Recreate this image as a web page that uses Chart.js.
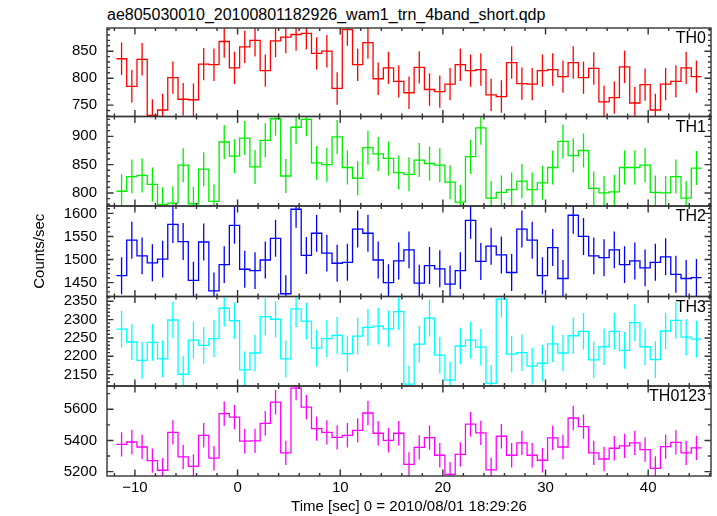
<!DOCTYPE html>
<html>
<head>
<meta charset="utf-8">
<script src="https://cdn.jsdelivr.net/npm/chart.js@4.4.1/dist/chart.umd.min.js"></script>
<style>
    html, body { margin: 0; padding: 0; background: #fff; }
    #cadre { position: relative; width: 717px; height: 516px; overflow: hidden; font-family: 'Liberation Sans', Arial, Helvetica, sans-serif; }
    #cadre canvas { position: absolute; left: 0; }
    #titre { position: absolute; left: 107px; top: 7px; font-size: 16px; line-height: 16px; color: #000; white-space: nowrap; }
</style>
</head>
<body>
<div id="cadre">
    <div id="titre">ae805030010_20100801182926_wam1_trn_4band_short.qdp</div>
    <canvas id="p0"></canvas>
    <canvas id="p1"></canvas>
    <canvas id="p2"></canvas>
    <canvas id="p3"></canvas>
    <canvas id="p4"></canvas>
</div>
<script>
// 1 s bins, first bin starts at binStart (sec from 2010/08/01 18:29:26)
const binStart = -11.8;
const binWidth = 1.0;

const th0 = [836, 785, 835, 731, 741, 801, 761, 760, 826, 825, 868, 819, 858, 870, 814, 869, 876, 881, 883, 846,
             850, 781, 890, 825, 866, 799, 819, 794, 773, 820, 779, 775, 789, 825, 814, 816, 769, 766, 829, 790,
             789, 814, 816, 803, 829, 801, 818, 756, 764, 821, 754, 788, 741, 789, 794, 819, 803];
const th1 = [803, 829, 831, 815, 780, 782, 849, 781, 842, 785, 890, 865, 897, 846, 893, 931, 830, 916, 930, 853,
             850, 899, 845, 826, 880, 869, 861, 836, 833, 858, 852, 849, 819, 784, 864, 915, 791, 801, 806, 821,
             806, 818, 845, 891, 866, 875, 808, 800, 802, 845, 845, 849, 801, 800, 829, 791, 844];
const th2 = [1465, 1542, 1508, 1493, 1501, 1576, 1539, 1455, 1538, 1432, 1489, 1574, 1479, 1476, 1499, 1546, 1426, 1609, 1509, 1557,
             1514, 1492, 1494, 1566, 1557, 1499, 1450, 1497, 1521, 1449, 1487, 1480, 1447, 1476, 1585, 1496, 1529, 1510, 1472, 1566,
             1542, 1465, 1526, 1459, 1596, 1550, 1508, 1504, 1521, 1489, 1497, 1482, 1494, 1506, 1468, 1459, 1461];
const th3 = [2274, 2239, 2189, 2238, 2193, 2299, 2151, 2244, 2230, 2248, 2331, 2297, 2163, 2209, 2308, 2301, 2193, 2329, 2296, 2222,
             2248, 2257, 2207, 2255, 2279, 2282, 2275, 2322, 2124, 2233, 2304, 2203, 2135, 2228, 2244, 2225, 2126, 2356, 2206, 2210,
             2173, 2181, 2234, 2209, 2256, 2268, 2190, 2226, 2268, 2216, 2292, 2226, 2191, 2269, 2298, 2252, 2247];
const th0123 = [5375, 5390, 5358, 5271, 5209, 5452, 5294, 5234, 5433, 5286, 5572, 5549, 5395, 5397, 5510, 5645, 5320, 5735, 5613, 5476,
                5452, 5420, 5433, 5465, 5576, 5446, 5401, 5446, 5247, 5356, 5418, 5305, 5183, 5311, 5504, 5448, 5211, 5427, 5305, 5384,
                5305, 5273, 5416, 5358, 5544, 5489, 5320, 5281, 5350, 5365, 5384, 5341, 5221, 5360, 5388, 5320, 5352];

// erreurs (1 sigma) par bande
const errTH0 = 30;
const errTH1 = 30;
const errTH2 = 40;
const errTH3 = 50;
const errTH0123 = 78;

// graduations
const xTicks = [-10, 0, 10, 20, 30, 40];
const yTicksTH0 = [750, 800, 850];
const yTicksTH1 = [800, 850, 900];
const yTicksTH2 = [1450, 1500, 1550, 1600];
const yTicksTH3 = [2150, 2200, 2250, 2300, 2350];
const yTicksTH0123 = [5200, 5400, 5600];

const xMin = -12.72, xMax = 46.12;
const limites = [28, 116.5, 206, 296.5, 386, 476];   // bords des panneaux en px

const panneaux = [
    { id: 'p0', nom: 'TH0', valeurs: th0, err: errTH0, couleur: '#ff0000', min: 729, max: 893, ticks: yTicksTH0, pas: 50, mineur: 10 },
    { id: 'p1', nom: 'TH1', valeurs: th1, err: errTH1, couleur: '#00ee00', min: 777, max: 935, ticks: yTicksTH1, pas: 50, mineur: 10 },
    { id: 'p2', nom: 'TH2', valeurs: th2, err: errTH2, couleur: '#0000ff', min: 1420, max: 1616, ticks: yTicksTH2, pas: 50, mineur: 10 },
    { id: 'p3', nom: 'TH3', valeurs: th3, err: errTH3, couleur: '#00ffff', min: 2119, max: 2363, ticks: yTicksTH3, pas: 50, mineur: 10 },
    { id: 'p4', nom: 'TH0123', valeurs: th0123, err: errTH0123, couleur: '#ff00ff', min: 5172, max: 5749, ticks: yTicksTH0123, pas: 200, mineur: 100 }
];

Chart.defaults.font.family = "'Liberation Sans', Arial, Helvetica, sans-serif";
Chart.defaults.color = '#000';

// cadre, graduations vers l'intérieur et nom de la bande
const decoPanneau = {
    id: 'decoPanneau',
    afterDatasetsDraw(chart, args, opts) {
        const { ctx, chartArea: a, scales: { x, y } } = chart;
        ctx.save();
        ctx.strokeStyle = '#333';
        ctx.lineWidth = 1.4;
        ctx.beginPath();
        for (let k = Math.ceil(x.min / 2); k * 2 <= x.max; k++) {
            const px = x.getPixelForValue(k * 2);
            const l = (k * 2) % 10 === 0 ? 6.5 : 3;
            ctx.moveTo(px, a.top); ctx.lineTo(px, a.top + l);
            ctx.moveTo(px, a.bottom); ctx.lineTo(px, a.bottom - l);
        }
        for (let k = Math.ceil(y.min / opts.mineur); k * opts.mineur <= y.max; k++) {
            const v = k * opts.mineur;
            const py = y.getPixelForValue(v);
            const l = v % opts.pas === 0 ? 6.5 : 3;
            ctx.moveTo(a.left, py); ctx.lineTo(a.left + l, py);
            ctx.moveTo(a.right, py); ctx.lineTo(a.right - l, py);
        }
        ctx.stroke();
        ctx.strokeRect(a.left, a.top, a.right - a.left, a.bottom - a.top);
        ctx.fillStyle = '#000';
        ctx.font = "16px 'Liberation Sans', Arial, sans-serif";
        ctx.textAlign = 'right';
        ctx.textBaseline = 'alphabetic';
        ctx.fillText(opts.nom, a.right - 5, a.top + 15);
        ctx.restore();
    }
};

// pas de marge ajoutée par les étiquettes : le cadre reste où on le place
function sansMarge(s) {
    s.paddingTop = 0;
    s.paddingBottom = 0;
    s.paddingLeft = 0;
    s.paddingRight = 0;
}

function dessinerPanneau(p, i) {
    const dernier = i === panneaux.length - 1;
    const haut = limites[i], bas = limites[i + 1];
    const hautCanvas = Math.floor(haut) - 12;
    const hauteur = dernier ? 516 - hautCanvas : Math.ceil(bas) + 12 - hautCanvas;
    const canvas = document.getElementById(p.id);
    canvas.width = 717;
    canvas.height = hauteur;
    canvas.style.top = hautCanvas + 'px';

    // histogramme en escalier
    const marches = p.valeurs.map((v, k) => ({ x: binStart + k * binWidth, y: v }));
    marches.push({ x: binStart + p.valeurs.length * binWidth, y: p.valeurs[p.valeurs.length - 1] });

    // barres d'erreur (segments séparés par des trous)
    const barres = [];
    p.valeurs.forEach((v, k) => {
        const c = binStart + (k + 0.5) * binWidth;
        barres.push({ x: c, y: v - p.err }, { x: c, y: v + p.err }, { x: c, y: null });
    });

    new Chart(canvas.getContext('2d'), {
        type: 'line',
        data: {
            datasets: [{
                data: barres,
                borderColor: p.couleur,
                borderWidth: 1.3,
                pointRadius: 0,
                spanGaps: false
            },
            {
                data: marches,
                borderColor: p.couleur,
                borderWidth: 1.3,
                pointRadius: 0,
                stepped: 'before'
            }]
        },
        options: {
            responsive: false,
            animation: false,
            devicePixelRatio: 1,
            events: [],
            layout: {
                padding: { top: haut - hautCanvas, bottom: dernier ? 0 : hauteur - (bas - hautCanvas), left: 0, right: 6 }
            },
            plugins: {
                legend: { display: false },
                tooltip: { enabled: false },
                decoPanneau: { nom: p.nom, pas: p.pas, mineur: p.mineur }
            },
            scales: {
                x: {
                    type: 'linear',
                    min: xMin,
                    max: xMax,
                    display: dernier,
                    grid: { display: false, drawTicks: false },
                    border: { display: false },
                    afterBuildTicks: s => { s.ticks = xTicks.map(v => ({ value: v })); },
                    afterFit: s => { sansMarge(s); if (dernier) s.height = 516 - hautCanvas - (bas - hautCanvas); },
                    ticks: {
                        padding: 3,
                        autoSkip: false,
                        maxRotation: 0,
                        font: { size: 15 },
                        callback: v => String(v).replace('-', '\u2212')
                    },
                    title: {
                        display: true,
                        text: 'Time [sec] 0 = 2010/08/01 18:29:26',
                        font: { size: 15 },
                        padding: { top: 0, bottom: 0 }
                    }
                },
                y: {
                    type: 'linear',
                    min: p.min,
                    max: p.max,
                    grid: { display: false, drawTicks: false },
                    border: { display: false },
                    afterBuildTicks: s => { s.ticks = p.ticks.map(v => ({ value: v })); },
                    afterFit: s => { sansMarge(s); s.width = 107; },
                    ticks: { padding: 10, font: { size: 15 }, callback: v => String(v) },
                    title: {
                        display: i === 2,
                        text: 'Counts/sec',
                        font: { size: 15 },
                        padding: { top: 31, bottom: 0 }
                    }
                }
            }
        },
        plugins: [decoPanneau]
    });
}

panneaux.forEach(dessinerPanneau);
</script>
</body>
</html>
